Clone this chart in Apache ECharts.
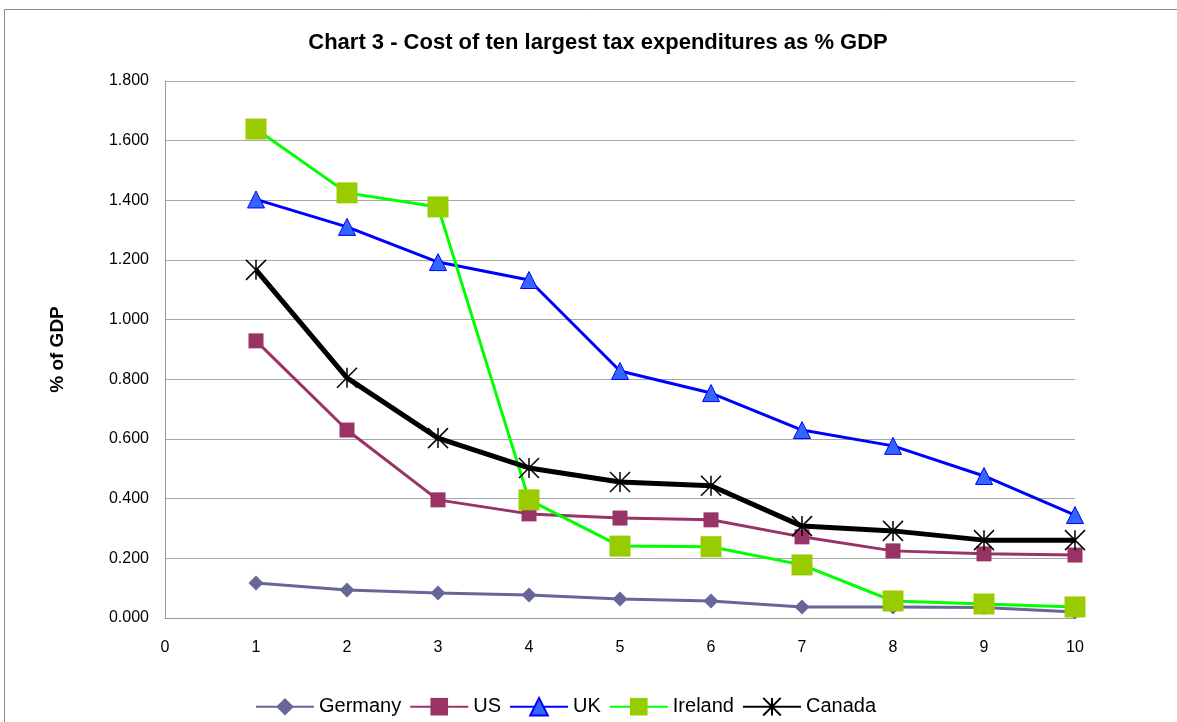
<!DOCTYPE html>
<html>
<head>
<meta charset="utf-8">
<script src="https://cdn.jsdelivr.net/npm/echarts@6/dist/echarts.min.js"></script>
<style>
html, body { margin: 0; padding: 0; background: #fff; }
#chart { width: 1177px; height: 722px; }
</style>
</head>
<body>
<div id="chart"></div>
<script>
// rank of the tax expenditure (1 = largest)
var ranks = [1, 2, 3, 4, 5, 6, 7, 8, 9, 10];

var germany = [0.117, 0.094, 0.084, 0.077, 0.064, 0.057, 0.037, 0.037, 0.035, 0.020];
var us      = [0.929, 0.630, 0.396, 0.349, 0.335, 0.329, 0.272, 0.225, 0.215, 0.211];
var uk      = [1.403, 1.311, 1.193, 1.133, 0.828, 0.754, 0.630, 0.577, 0.476, 0.345];
var ireland = [1.639, 1.425, 1.378, 0.396, 0.241, 0.239, 0.178, 0.057, 0.047, 0.037];
var canada  = [1.167, 0.805, 0.603, 0.503, 0.456, 0.443, 0.308, 0.292, 0.261, 0.261];

var font = '"Liberation Sans", Arial, sans-serif';

function pairs(vals) {
    return vals.map(function(v, i) { return [ranks[i], v]; });
}

var asterisk = 'path://M0,0 L10,10 M10,0 L0,10 M5,0 L5,10';

var chart = echarts.init(document.getElementById('chart'));

var option = {
    animation: false,
    textStyle: { fontFamily: font },
    title: {
        text: 'Chart 3 - Cost of ten largest tax expenditures as % GDP',
        left: 593,
        textAlign: 'center',
        top: 27,
        textStyle: { fontSize: 22, fontWeight: 'bold', color: '#000', fontFamily: font }
    },
    graphic: [{
        type: 'rect',
        shape: { x: 4.5, y: 9.5, width: 1200, height: 800 },
        style: { fill: 'none', stroke: '#8c8c8c', lineWidth: 1 },
        silent: true
    }],
    grid: { left: 165, right: 102, top: 81, bottom: 104 },
    legend: {
        bottom: -1,
        left: 250,
        itemWidth: 58,
        itemHeight: 22,
        itemGap: 8,
        textStyle: { fontSize: 20, color: '#000', fontFamily: font },
        data: ['Germany', 'US', 'UK', 'Ireland', 'Canada']
    },
    xAxis: {
        type: 'value',
        min: 0,
        max: 10,
        interval: 1,
        splitLine: { show: false },
        axisLine: { lineStyle: { color: '#999', width: 1 } },
        axisTick: { show: false },
        axisLabel: { fontSize: 16, color: '#000', margin: 22 }
    },
    yAxis: {
        type: 'value',
        min: 0,
        max: 1.8,
        interval: 0.2,
        name: '% of GDP',
        nameLocation: 'middle',
        nameRotate: 90,
        nameGap: 98,
        nameTextStyle: { fontSize: 19, fontWeight: 'bold', color: '#000', fontFamily: font },
        axisLine: { show: true, lineStyle: { color: '#999', width: 1 } },
        axisTick: { show: false },
        splitLine: { lineStyle: { color: '#a6a6a6', width: 1 } },
        axisLabel: {
            fontSize: 16, color: '#000', margin: 16,
            formatter: function(v) { return v.toFixed(3); }
        }
    },
    series: [
        {
            name: 'Germany', type: 'line', data: pairs(germany),
            symbol: 'diamond', symbolSize: 15,
            lineStyle: { color: '#666699', width: 3 },
            itemStyle: { color: '#666699' }
        },
        {
            name: 'US', type: 'line', data: pairs(us),
            symbol: 'rect', symbolSize: 15,
            lineStyle: { color: '#993366', width: 3 },
            itemStyle: { color: '#993366' }
        },
        {
            name: 'UK', type: 'line', data: pairs(uk),
            symbol: 'triangle', symbolSize: 17,
            lineStyle: { color: '#0000ff', width: 3 },
            itemStyle: { color: '#3366ff', borderColor: '#0000ff', borderWidth: 1 }
        },
        {
            name: 'Ireland', type: 'line', data: pairs(ireland),
            symbol: 'rect', symbolSize: 21,
            lineStyle: { color: '#00ff00', width: 3 },
            itemStyle: { color: '#99cc00' }
        },
        {
            name: 'Canada', type: 'line', data: pairs(canada),
            symbol: asterisk, symbolSize: 20,
            lineStyle: { color: '#000000', width: 5 },
            itemStyle: { color: 'none', borderColor: '#000', borderWidth: 1.5 }
        }
    ]
};

chart.setOption(option);
</script>
</body>
</html>
